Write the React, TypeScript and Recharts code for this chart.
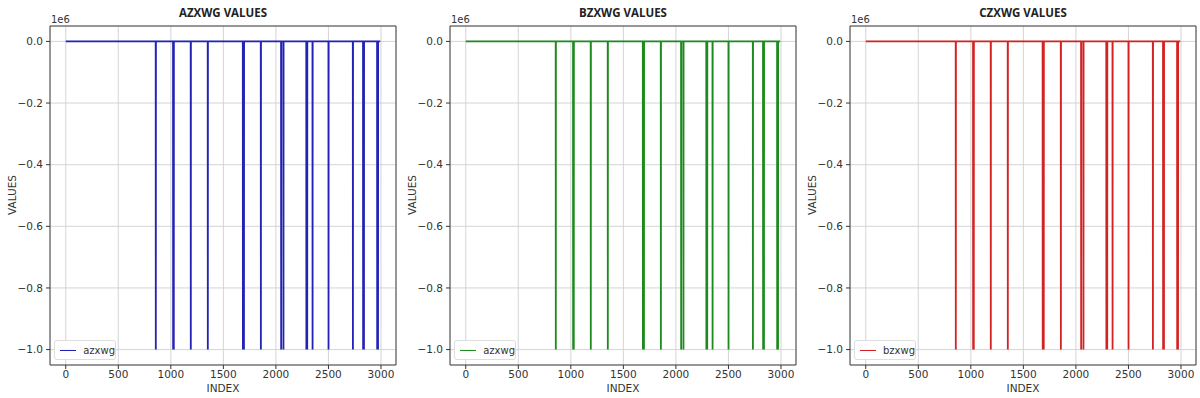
import { LineChart, Line, XAxis, YAxis, CartesianGrid, ReferenceArea } from 'recharts';

// spike positions (index) where value drops to -1e6
const azxwgSpikes = [857, 1022, 1028, 1190, 1352, 1686, 1696, 1857, 2050, 2072, 2290, 2298, 2349, 2501, 2733, 2830, 2838, 2964, 2972];
const bzxwgSpikes = [857, 1022, 1028, 1190, 1352, 1686, 1696, 1857, 2050, 2072, 2290, 2298, 2349, 2501, 2733, 2830, 2838, 2964, 2972];
const czxwgSpikes = [857, 1022, 1028, 1190, 1352, 1684, 1694, 1857, 2050, 2072, 2290, 2298, 2349, 2501, 2733, 2830, 2838, 2964, 2972];

const lastIndex = 2993;
const baseValue = 0;
const spikeValue = -1000000;

const xTicks = [0, 500, 1000, 1500, 2000, 2500, 3000];
const yTicks = [-1000000, -800000, -600000, -400000, -200000, 0];

const panels = [
    { title: 'AZXWG VALUES', legend: 'azxwg', color: '#2222b4', spikes: azxwgSpikes },
    { title: 'BZXWG VALUES', legend: 'azxwg', color: '#1c8a1c', spikes: bzxwgSpikes },
    { title: 'CZXWG VALUES', legend: 'bzxwg', color: '#d42222', spikes: czxwgSpikes },
];

function buildSeries(spikes: number[]) {
    const pts = [{ x: 0, y: baseValue }];
    spikes.forEach((s) => {
        pts.push({ x: s - 1, y: baseValue });
        pts.push({ x: s, y: spikeValue });
        pts.push({ x: s + 1, y: baseValue });
    });
    pts.push({ x: lastIndex, y: baseValue });
    return pts;
}

const fmtY = (v: number) => {
    const s = (v / 1e6).toFixed(1);
    return s.replace('-', '\u2212');
};

const tickFont = { fontSize: 10.5, fill: '#333', fontFamily: 'DejaVu Sans' };

function Panel({ title, legend, color, spikes, left }: any) {
    const data = buildSeries(spikes);
    return (
        <div style={{ position: 'absolute', left, top: 0, width: 400, height: 398 }}>
            <LineChart width={400} height={398} data={data} margin={{ top: 26, right: 4, bottom: 0, left: 0 }}>
                <CartesianGrid stroke="#cfcfcf" strokeWidth={0.9} />
                <XAxis
                    dataKey="x"
                    type="number"
                    domain={[-150, 3143]}
                    ticks={xTicks}
                    allowDataOverflow
                    height={33}
                    axisLine={false}
                    tickLine={{ stroke: '#333' }}
                    tickSize={4}
                    tickMargin={2}
                    tick={tickFont}
                />
                <YAxis
                    type="number"
                    domain={[-1050000, 50000]}
                    ticks={yTicks}
                    allowDataOverflow
                    width={50}
                    axisLine={false}
                    tickLine={{ stroke: '#333' }}
                    tickSize={4}
                    tickMargin={3}
                    tick={tickFont}
                    tickFormatter={fmtY}
                />
                <ReferenceArea x1={-150} x2={3143} y1={-1050000} y2={50000} fill="none" stroke="#444" strokeWidth={1} />
                <Line type="linear" dataKey="y" stroke={color} strokeWidth={1.8} dot={false} isAnimationActive={false} />
            </LineChart>
            <div style={{ position: 'absolute', left: 50, width: 346, top: 5, textAlign: 'center', fontFamily: 'Open Sans', fontWeight: 700, fontSize: 11.5, color: '#222' }}>
                {title}
            </div>
            <div style={{ position: 'absolute', left: 51, top: 14, fontFamily: 'DejaVu Sans', fontSize: 10, color: '#333' }}>1e6</div>
            <div style={{ position: 'absolute', left: 50, width: 346, top: 382, textAlign: 'center', fontFamily: 'DejaVu Sans', fontSize: 10.5, color: '#333' }}>
                INDEX
            </div>
            <div style={{ position: 'absolute', left: 12, top: 195, transform: 'translate(-50%, -50%) rotate(-90deg)', fontFamily: 'DejaVu Sans', fontSize: 10.5, color: '#333' }}>
                VALUES
            </div>
            <div style={{ position: 'absolute', left: 54, top: 340, width: 62, height: 20, border: '1px solid #ddd', borderRadius: 3, background: 'rgba(255,255,255,0.85)', display: 'flex', alignItems: 'center', boxSizing: 'border-box' }}>
                <div style={{ width: 19, height: 0, borderTop: `1.8px solid ${color}`, marginLeft: 5, marginRight: 7 }} />
                <span style={{ fontFamily: 'DejaVu Sans', fontSize: 10, color: '#333' }}>{legend}</span>
            </div>
        </div>
    );
}

export default function App() {
    return (
        <div style={{ position: 'absolute', left: 0, top: 0, width: 1200, height: 398, background: '#fff', overflow: 'hidden' }}>
            {panels.map((p, i) => (
                <Panel key={p.title} {...p} left={i * 400} />
            ))}
        </div>
    );
}
